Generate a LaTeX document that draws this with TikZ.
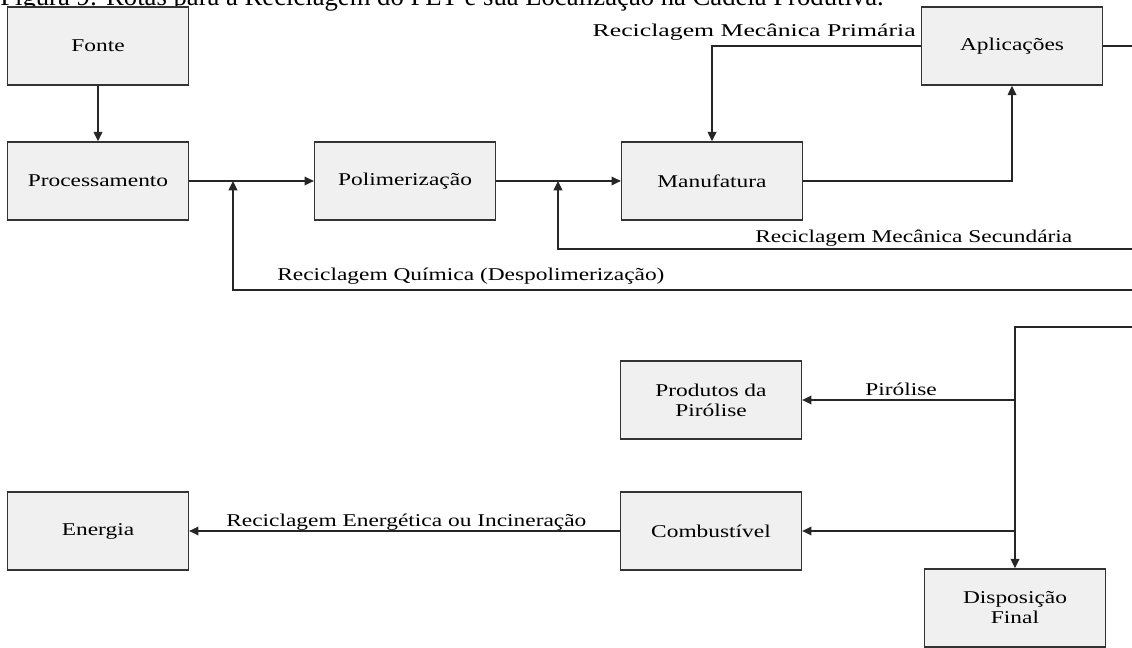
\documentclass[tikz,border=0pt]{standalone}
\usepackage{fontspec}
\setmainfont{Liberation Serif}[FakeStretch=1.3]
\newfontfamily\titlefont{Liberation Serif}
\usetikzlibrary{arrows.meta}

\begin{document}
\begin{tikzpicture}[x=0.75pt,y=-0.75pt]
    \tikzset{box/.style  = {draw=black!80, fill=black!6, line width=1.2pt,
        minimum width=135.5pt, minimum height=58.5pt, align=center,
        font=\fontsize{13.5}{15}\selectfont},
      link/.style = {draw=black!85, line width=1.2pt},
      flow/.style = {link, -{Triangle[length=7pt,width=6.5pt]}},
      lbl/.style  = {inner sep=0pt, font=\fontsize{13.5}{15}\selectfont}}

    \def\Edge{1132};
    \def\Drop{1015};

    \useasboundingbox (0,0) rectangle (1132,648);

    % Title, cut off at the top of the page.
    \node[anchor=base west, inner sep=0pt, font=\titlefont\fontsize{20}{22}\selectfont]
      (title) at (0,6) {Figura 9: Rotas para a Reciclagem do PET e sua Localização na Cadeia Produtiva.};

    % The production chain.
    \node[box] (fonte)   at (98,46)   {Fonte};
    \node[box] (proc)    at (98,181)  {Processamento};
    \node[box] (poli)    at (405,181) {Polimerização};
    \node[box] (manu)    at (712,181) {Manufatura};
    \node[box] (apli)    at (1012,46) {Aplicações};

    % End of life.
    \node[box] (piro)    at (711,400)    {Produtos da\\Pirólise};
    \node[box] (comb)    at (711,531)    {Combustível};
    \node[box] (energia) at (98,531)     {Energia};
    \node[box] (disp)    at (\Drop,608)  {Disposição\\Final};

    % Joints and loose ends.
    \coordinate (jq) at (233,181);
    \coordinate (jm) at (558,181);
    \coordinate (eA) at (\Edge,46);
    \coordinate (eS) at (\Edge,249);
    \coordinate (eQ) at (\Edge,290);
    \coordinate (eT) at (\Edge,327);
    \coordinate (jP) at (\Drop,400);
    \coordinate (jC) at (\Drop,531);

    \draw[flow] (fonte) -- (proc);
    \draw[flow] (proc) -- (poli);
    \draw[flow] (poli) -- (manu);
    \draw[flow] (manu.east) -| (apli.south);
    \draw[flow] (apli.west) -| (manu.north);
    \draw[link] (apli.east) -- (eA);
    \draw[flow] (eS) -| (jm);
    \draw[flow] (eQ) -| (jq);
    \draw[flow] (eT) -| (disp.north);
    \draw[flow] (jP) -- (piro.east);
    \draw[flow] (jC) -- (comb.east);
    \draw[flow] (comb) -- (energia);

    % Route labels.
    \node[lbl, anchor=base east, xscale=1.1, transform shape] (lprim) at (916,37) {Reciclagem Mecânica Primária};
    \node[lbl, anchor=base west] (lsec)  at (755,243) {Reciclagem Mecânica Secundária};
    \node[lbl, anchor=base west] (lquim) at (277,281) {Reciclagem Química (Despolimerização)};
    \node[lbl, anchor=base west] (lpiro) at (865,396) {Pirólise};
    \node[lbl, anchor=base west] (lener) at (226,527) {Reciclagem Energética ou Incineração};
\end{tikzpicture}
\end{document}
